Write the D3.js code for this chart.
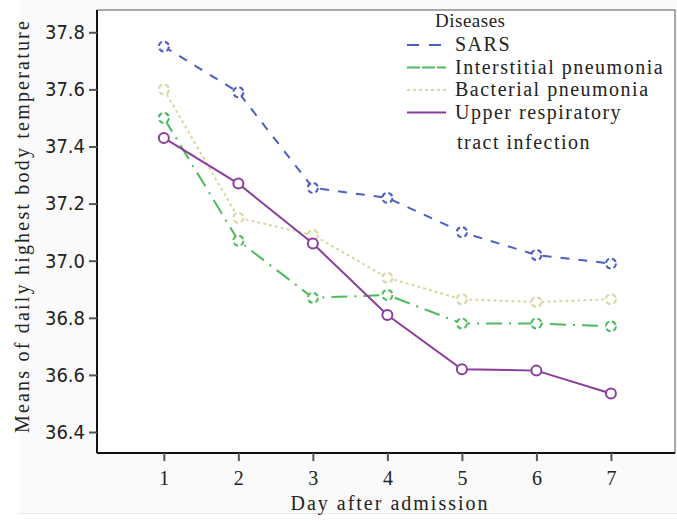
<!DOCTYPE html>
<html>
<head>
<meta charset="utf-8">
<script src="https://cdn.jsdelivr.net/npm/d3@7"></script>
<style>
  body { margin: 0; background: #fff; }
  svg text { font-family: 'Liberation Serif', 'DejaVu Serif', serif; fill: #222; }
</style>
</head>
<body>
<svg id="chart" width="677" height="521"></svg>
<script>
const days = [1, 2, 3, 4, 5, 6, 7];
const yTicks = [36.4, 36.6, 36.8, 37.0, 37.2, 37.4, 37.6, 37.8];

const sars = [37.75, 37.59, 37.255, 37.22, 37.10, 37.02, 36.99];
const interstitial = [37.50, 37.07, 36.87, 36.88, 36.78, 36.78, 36.77];
const bacterial = [37.60, 37.15, 37.09, 36.94, 36.865, 36.855, 36.865];
const upperResp = [37.43, 37.27, 37.06, 36.81, 36.62, 36.615, 36.535];

const series = [
  { name: 'SARS', values: sars, color: '#4d5fc2', dash: '9,9', legendDash: '12,10' },
  { name: 'Interstitial pneumonia', values: interstitial, color: '#4dbb5c', dash: '16,7,2,7', legendDash: '13,2' },
  { name: 'Bacterial pneumonia', values: bacterial, color: '#dad7a2', dash: '3,3', legendDash: '3,3' },
  { name: 'Upper respiratory', name2: 'tract infection', values: upperResp, color: '#8b3d9c', dash: null, legendDash: null }
];

const margin = { top: 10, right: 2, bottom: 68, left: 97 };
const w = 677;
const h = 521;

const svg = d3.select('#chart');

// faint page background like the scanned figure
svg.append('rect')
  .attr('x', 20).attr('y', 0)
  .attr('width', w - 20).attr('height', 513)
  .attr('fill', '#fafafa');
svg.append('line')
  .attr('x1', 20).attr('x2', w)
  .attr('y1', 513.5).attr('y2', 513.5)
  .attr('stroke', '#e6e6e6');

const xScale = d3.scaleLinear()
  .domain([0.103, 7.86])
  .range([margin.left, w - margin.right]);
const yScale = d3.scaleLinear()
  .domain([36.3265, 37.878])
  .range([h - margin.bottom, margin.top]);

svg.append('rect')
  .attr('x', margin.left)
  .attr('y', margin.top)
  .attr('width', w - margin.right - margin.left)
  .attr('height', h - margin.bottom - margin.top)
  .attr('fill', '#fff')
  .attr('stroke', '#555')
  .attr('stroke-width', 1);

svg.append('line')
  .attr('x1', margin.left).attr('x2', margin.left)
  .attr('y1', margin.top).attr('y2', h - margin.bottom)
  .attr('stroke', '#111').attr('stroke-width', 2);
svg.append('line')
  .attr('x1', margin.left).attr('x2', w - margin.right)
  .attr('y1', h - margin.bottom).attr('y2', h - margin.bottom)
  .attr('stroke', '#111').attr('stroke-width', 2);

const xAxis = svg.append('g')
  .attr('class', 'x-axis')
  .attr('transform', `translate(0, ${h - margin.bottom})`)
  .call(d3.axisBottom(xScale).tickValues(days).tickSize(8).tickPadding(10).tickFormat(d => d));
xAxis.select('.domain').remove();
xAxis.selectAll('line').attr('stroke', '#555').attr('stroke-width', 2);
xAxis.selectAll('text')
  .style('font-family', "'Liberation Serif', serif")
  .style('font-size', '20px')
  .attr('fill', '#222');

const yAxis = svg.append('g')
  .attr('class', 'y-axis')
  .attr('transform', `translate(${margin.left}, 0)`)
  .call(d3.axisLeft(yScale).tickValues(yTicks).tickSize(8).tickPadding(4).tickFormat(d3.format('.1f')));
yAxis.select('.domain').remove();
yAxis.selectAll('line').attr('stroke', '#555').attr('stroke-width', 2);
yAxis.selectAll('text')
  .style('font-family', "'DejaVu Sans Condensed', 'Liberation Sans Narrow', sans-serif")
  .style('font-size', '20px')
  .attr('fill', '#444');

svg.append('text')
  .attr('x', 390)
  .attr('y', 510)
  .attr('text-anchor', 'middle')
  .style('font-size', '20px')
  .style('letter-spacing', '2px')
  .text('Day after admission');

svg.append('text')
  .attr('transform', 'translate(29, 226) rotate(-90)')
  .attr('text-anchor', 'middle')
  .style('font-size', '20px')
  .style('letter-spacing', '2.2px')
  .text('Means of daily highest body temperature');

const line = d3.line()
  .x((d, i) => xScale(days[i]))
  .y(d => yScale(d));

const plot = svg.append('g').attr('class', 'lines');

series.forEach(s => {
  plot.append('path')
    .datum(s.values)
    .attr('d', line)
    .attr('fill', 'none')
    .attr('stroke', s.color)
    .attr('stroke-width', 2)
    .attr('stroke-dasharray', s.dash);

  plot.selectAll(null)
    .data(s.values)
    .enter()
    .append('circle')
    .attr('cx', (d, i) => xScale(days[i]))
    .attr('cy', d => yScale(d))
    .attr('r', 5)
    .attr('fill', '#fff')
    .attr('stroke', s.color)
    .attr('stroke-width', 2)
    .attr('stroke-dasharray', s.dash ? '5,3' : null);
});

const legend = svg.append('g').attr('class', 'legend');
legend.append('text')
  .attr('x', 435)
  .attr('y', 27)
  .style('font-size', '19px')
  .style('letter-spacing', '0.5px')
  .text('Diseases');

series.forEach((s, i) => {
  const y = 45 + i * 22.5;
  legend.append('line')
    .attr('x1', 407).attr('x2', 446)
    .attr('y1', y).attr('y2', y)
    .attr('stroke', s.color)
    .attr('stroke-width', 2)
    .attr('stroke-dasharray', s.legendDash);
  legend.append('text')
    .attr('x', 455)
    .attr('y', y + 6)
    .style('font-size', '20px')
    .style('letter-spacing', '1.5px')
    .text(s.name);
  if (s.name2) {
    legend.append('text')
      .attr('x', 457)
      .attr('y', y + 36)
      .style('font-size', '20px')
      .style('letter-spacing', '1.5px')
      .text(s.name2);
  }
});
</script>
</body>
</html>
